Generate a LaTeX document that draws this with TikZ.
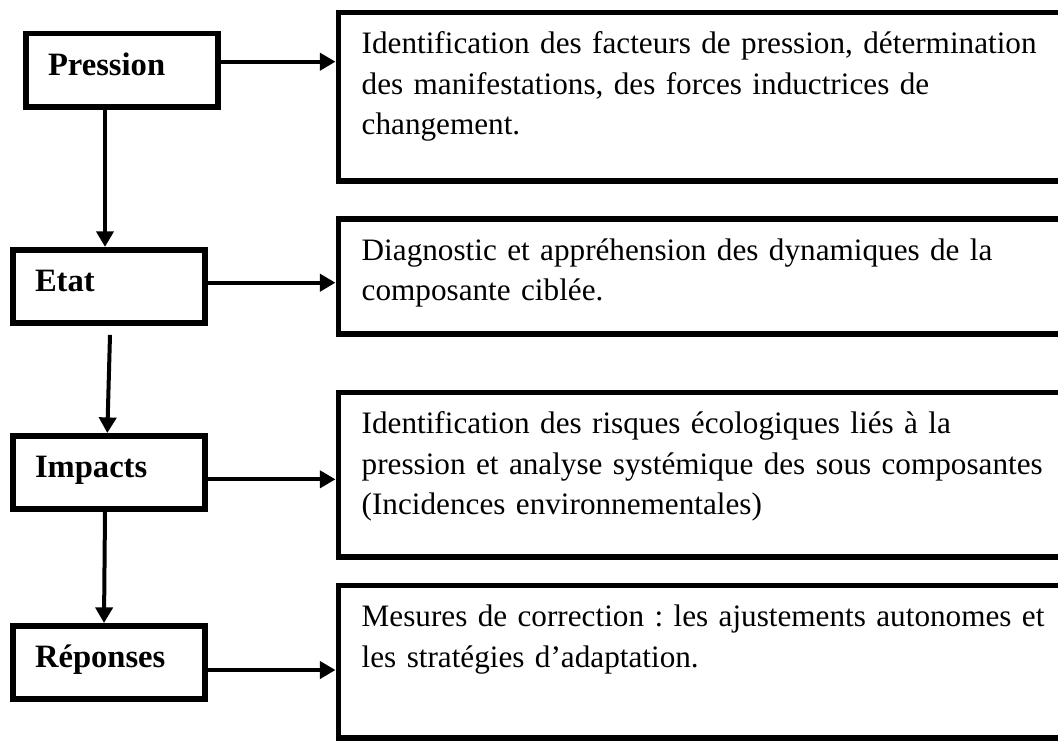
\documentclass[tikz,border=0pt]{standalone}
\usepackage{fontspec}
\setmainfont{Liberation Serif}
\usetikzlibrary{arrows.meta,calc}
\frenchspacing

\begin{document}
\begin{tikzpicture}[x=0.5pt,y=-0.5pt,
  stage/.style={draw,line width=2.8pt,minimum width=96pt,minimum height=36.7pt,
    align=left,text width=74pt,inner xsep=10.5pt,text height=12pt,text depth=7pt,
    font=\bfseries\fontsize{16.3}{19}\selectfont},
  desc/.style={draw,line width=2.8pt,anchor=north west,minimum width=368pt,
    align=left,text width=360pt,inner xsep=11.7pt,inner ysep=0pt,text height=20.5pt,
    font=\fontsize{15.6}{20.25}\selectfont},
  flow/.style={line width=2pt,-{Triangle[length=7.8pt,width=8.5pt]}}]
\useasboundingbox (0,0) rectangle (1058,740);
\node[stage] (pression) at (122,70) {Pression};
\node[stage] (etat) at (109,286.4) {Etat};
\node[stage] (impacts) at (109,472.5) {Impacts};
\node[stage] (reponses) at (109,662.5) {Réponses};
\node[desc,text depth=63.65pt] (d1) at (335.5,9.7) {Identification des facteurs de pression, détermination\\des manifestations, des forces inductrices de\\changement.};
\node[desc,text depth=37.1pt] (d2) at (335.5,216.2) {Diagnostic et appréhension des dynamiques de la\\composante ciblée.};
\node[desc,text depth=61.75pt] (d3) at (335.5,389.7) {Identification des risques écologiques liés à la\\pression et analyse systémique des sous composantes\\(Incidences environnementales)};
\node[desc,text depth=55.75pt] (d4) at (335.5,582.7) {Mesures de correction : les ajustements autonomes et\\les stratégies d’adaptation.};
\draw[flow] (pression.east |- 0,61.7) -- (d1.west |- 0,61.7);
\draw[flow] (etat.east |- 0,282.7) -- (d2.west |- 0,282.7);
\draw[flow] (impacts.east |- 0,479.3) -- (d3.west |- 0,479.3);
\draw[flow] (reponses.east |- 0,670) -- (d4.west |- 0,670);
\draw[flow] (pression.south -| 105,0) -- (etat.north -| 105,0);
\draw[flow] ($(etat.south -| 110,0)+(0,9)$) -- (impacts.north -| 107.3,0);
\draw[flow] (impacts.south -| 105,0) -- (reponses.north -| 104,0);
\end{tikzpicture}
\end{document}
